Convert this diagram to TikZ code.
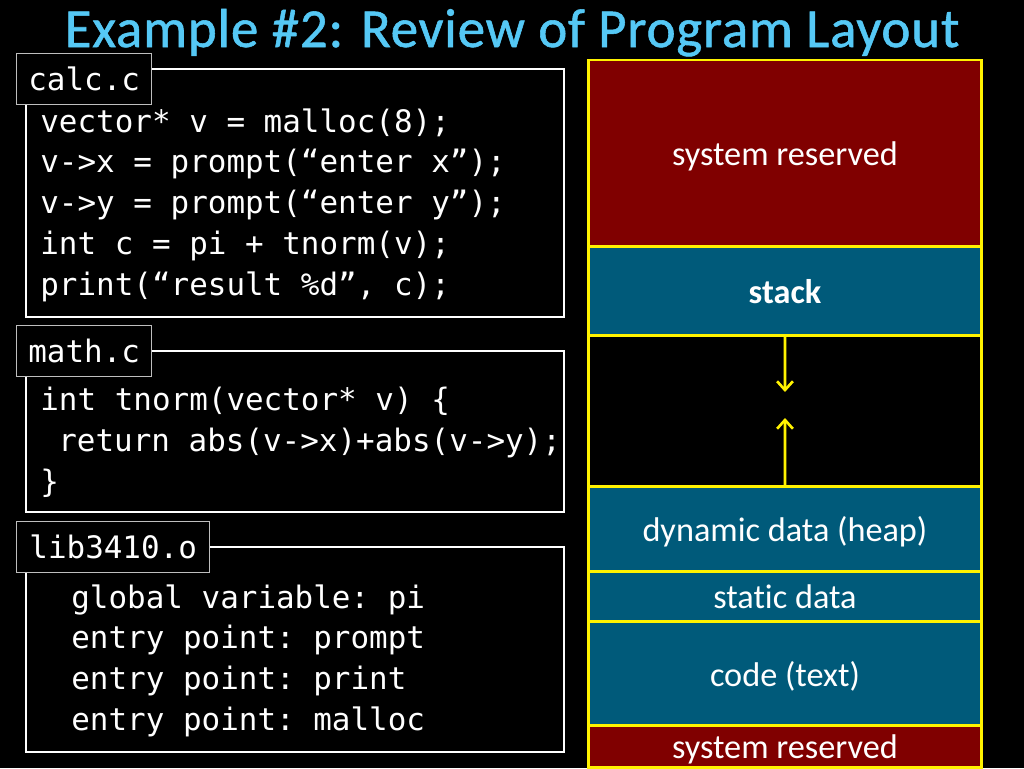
\documentclass[tikz,border=0pt]{standalone}
\usepackage{fontspec}
\setmainfont{Carlito}[Ligatures=NoCommon]
\setmonofont{DejaVu Sans Mono}
\usetikzlibrary{positioning,arrows.meta}
\definecolor{titleblue}{RGB}{85,200,245}
\definecolor{memred}{RGB}{128,0,0}
\definecolor{memteal}{RGB}{0,90,122}
\definecolor{tabgray}{RGB}{190,190,190}
\newcommand{\codefont}{\ttfamily\fontsize{17.6}{23}\selectfont}
\newcommand{\memfont}{\fontsize{19.5}{24}\selectfont}
\newcommand{\titlefont}{\addfontfeatures{LetterSpace=1.5,FakeBold=1}\fontsize{31.3}{36}\selectfont}
\tikzset{
  codebox/.style={draw=white, line width=1.4pt, fill=black, rectangle,
    anchor=north west, inner sep=0pt},
  tabbox/.style={draw=tabgray, line width=0.8pt, fill=black, rectangle,
    anchor=north west, inner sep=0pt, minimum height=1.02cm, text=white, font=\codefont},
  codeline/.style={anchor=base west, inner sep=0pt, text=white, font=\codefont},
  memblock/.style={draw=yellow, line width=1.7pt, rectangle, inner sep=0pt,
    outer sep=0pt, minimum width=7.88cm, text depth=0pt, text=white, font=\memfont},
  growarrow/.style={draw=yellow, line width=1.5pt, -{Straight Barb[length=5pt,width=9pt]}}
}
\begin{document}
\begin{tikzpicture}[x=0.02cm, y=-0.02cm]
\useasboundingbox[fill=black] (0,0) rectangle (1024,768);

\node[font=\titlefont, text=titleblue, anchor=base] (title) at (512,47)
  {Example \#2: Review of Program Layout};

% memory layout
\node[memblock, fill=memred, minimum height=3.74cm, anchor=north west] (sysres) at (588,60) {system reserved};
\node[memblock, fill=memteal, minimum height=1.78cm, below=0pt of sysres] (stack) {\bfseries stack};
\node[memblock, fill=black, minimum height=3.02cm, below=0pt of stack] (gap) {};
\node[memblock, fill=memteal, minimum height=1.70cm, below=0pt of gap] (heap) {dynamic data (heap)};
\node[memblock, fill=memteal, minimum height=1.00cm, below=0pt of heap] (static) {static data};
\node[memblock, fill=memteal, minimum height=2.08cm, below=0pt of static] (code) {code (text)};
\node[memblock, fill=memred, minimum height=0.84cm, below=0pt of code] (lowres) {system reserved};

\coordinate (stackend) at (785,392);
\coordinate (heapend) at (785,418);
\draw[growarrow] (stack.south) -- (stackend);
\draw[growarrow] (heap.north) -- (heapend);

% calc.c
\node[codebox, minimum width=10.76cm, minimum height=4.96cm] (calc) at (25,68) {};
\node[tabbox, minimum width=2.70cm] (calctab) at (16,53) {calc.c};
\foreach \ln [count=\i from 0] in {{vector* v = malloc(8);},
    {v->x = prompt(“enter x”);}, {v->y = prompt(“enter y”);},
    {int c = pi + tnorm(v);}, {print(“result \%d”, c);}}
  \node[codeline] (calcline\i) at (40,132+40.8*\i) {\ln};

% math.c
\node[codebox, minimum width=10.76cm, minimum height=3.22cm] (math) at (25,350) {};
\node[tabbox, minimum width=2.70cm] (mathtab) at (16,325) {math.c};
\node[codeline] (mathline0) at (40,410) {int tnorm(vector* v) \{};
\node[codeline] (mathline1) at (58,451) {return abs(v->x)+abs(v->y);};
\node[codeline] (mathline2) at (40,492) {\}};

% lib3410.o
\node[codebox, minimum width=10.76cm, minimum height=4.10cm] (lib) at (25,546) {};
\node[tabbox, minimum width=3.86cm] (libtab) at (16,521) {lib3410.o};
\foreach \ln [count=\i from 0] in {{global variable: pi}, {entry point: prompt},
    {entry point: print}, {entry point: malloc}}
  \node[codeline] (libline\i) at (71,608+40.8*\i) {\ln};
\end{tikzpicture}
\end{document}
